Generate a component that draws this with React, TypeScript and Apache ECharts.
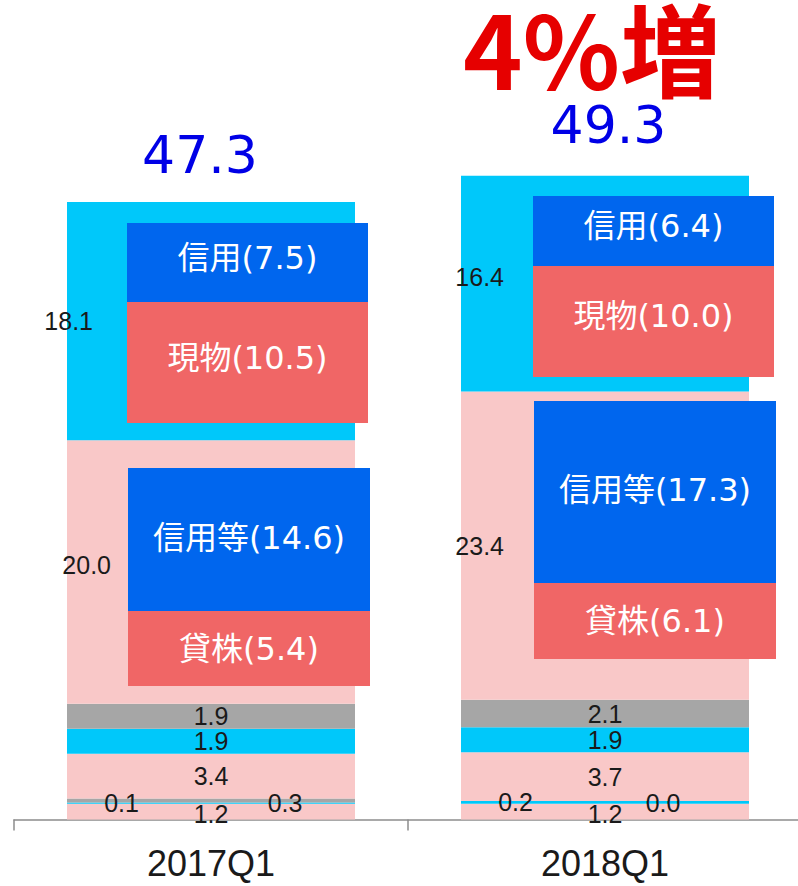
import React, { useEffect, useRef } from 'react';
import * as echarts from 'echarts';

// ---- data ----
const categories = ['2017Q1', '2018Q1'];
// stacked segments, bottom to top
const segPinkA = [1.2, 1.2];
const segCyanA = [0.1, 0.2];
const segGrayA = [0.3, 0.0];
const segPinkB = [3.4, 3.7];
const segCyanB = [1.9, 1.9];
const segGrayB = [1.9, 2.1];
const segPinkC = [20.0, 23.4];
const segCyanC = [18.1, 16.4];
const totals = [47.3, 49.3];
const growthText = '4%増';

// breakdown boxes
const boxNames = ['信用', '現物', '信用等', '貸株'];
const boxValues2017 = [7.5, 10.5, 14.6, 5.4];
const boxValues2018 = [6.4, 10.0, 17.3, 6.1];
// box extents on the value axis (top, bottom)
const boxTop2017 = [45.3, 39.3, 26.7, 15.83];
const boxBottom2017 = [39.3, 30.11, 15.83, 10.14];
const boxTop2018 = [47.35, 42.04, 31.78, 17.96];
const boxBottom2018 = [42.04, 33.61, 17.96, 12.19];

// ---- styles / layout ----
const PINK = '#F9C8C8';
const CYAN = '#00C8FA';
const GRAY = '#A6A6A6';
const BLUE = '#0066EE';
const SALMON = '#F06666';
const boxColors = [BLUE, SALMON, BLUE, SALMON];
const boxDx = [
  [[-84, 157], [-84, 157], [-83, 159], [-83, 159]],
  [[-72, 169], [-72, 169], [-71, 171], [-71, 171]],
];
const boxTextDy = [-5, -5, -2, 0];
const LABEL_FONT = 'Liberation Sans';
const fmt1 = (p: any) => Number(p.value).toFixed(1);

export default function App() {
  const ref = useRef<HTMLDivElement>(null);
  useEffect(() => {
    if (!ref.current) return;
    const chart = echarts.init(ref.current, undefined, { renderer: 'svg' });

    const baseLabel = {
      show: true,
      position: 'inside',
      fontFamily: LABEL_FONT,
      fontSize: 25,
      color: '#1a1a1a',
      textBorderWidth: 0,
      formatter: fmt1,
    };
    const mkBar = (name: string, data: any[], color: string, label: any) => ({
      name,
      type: 'bar',
      stack: 'total',
      barWidth: 288,
      data,
      itemStyle: { color },
      label: { ...baseLabel, ...label },
    });

    const stackTop = categories.map((_, i) =>
      [segPinkA, segCyanA, segGrayA, segPinkB, segCyanB, segGrayB, segPinkC, segCyanC]
        .reduce((s, a) => s + a[i], 0)
    );

    const boxData: any[] = [];
    const boxInfo: any[] = [];
    [
      [boxTop2017, boxBottom2017, boxValues2017],
      [boxTop2018, boxBottom2018, boxValues2018],
    ].forEach((arr, c) => {
      boxNames.forEach((n, k) => {
        boxData.push([c, arr[0][k], arr[1][k]]);
        boxInfo.push({ c, k, text: `${n}(${(arr[2][k] as number).toFixed(1)})` });
      });
    });

    const option: any = {
      animation: false,
      grid: {
        left: 14,
        top: 29.5,
        width: 788,
        bottom: 66.5,
        containLabel: false,
        outerBoundsMode: 'none',
      },
      xAxis: {
        type: 'category',
        data: categories,
        axisLine: { lineStyle: { color: '#8c8c8c', width: 1.5 } },
        axisTick: { show: true, length: 11, lineStyle: { color: '#8c8c8c', width: 1.5 } },
        axisLabel: { fontFamily: LABEL_FONT, fontSize: 36, color: '#1a1a1a', margin: 26 },
        z: 1,
      },
      yAxis: { type: 'value', min: 0, max: 60, show: false },
      graphic: [
        {
          type: 'text',
          x: 592,
          y: 46,
          z: 10,
          style: {
            text: growthText,
            fontFamily: 'Noto Sans CJK JP',
            fontWeight: 'bold',
            fontSize: 101,
            lineHeight: 88,
            fill: '#E60000',
            align: 'center',
            verticalAlign: 'middle',
          },
        },
      ],
      series: [
        mkBar('segPinkA', segPinkA.map((v) => ({ value: v })), PINK, { offset: [0, 2] }),
        mkBar('segCyanA', segCyanA.map((v) => ({ value: v })), CYAN, { offset: [-89.5, 0] }),
        mkBar(
          'segGrayA',
          [
            { value: segGrayA[0], label: { offset: [74, 2.6] } },
            { value: segGrayA[1], label: { offset: [58, 2] } },
          ],
          GRAY,
          {}
        ),
        mkBar('segPinkB', segPinkB.map((v) => ({ value: v })), PINK, {}),
        mkBar('segCyanB', segCyanB.map((v) => ({ value: v })), CYAN, {}),
        mkBar('segGrayB', segGrayB.map((v) => ({ value: v })), GRAY, {}),
        mkBar(
          'segPinkC',
          [
            { value: segPinkC[0], label: { position: [44, '50%'], align: 'right', verticalAlign: 'middle', offset: [0, -7] } },
            { value: segPinkC[1], label: { position: [43, '50%'], align: 'right', verticalAlign: 'middle' } },
          ],
          PINK,
          {}
        ),
        mkBar(
          'segCyanC',
          [
            { value: segCyanC[0], label: { position: [26, '50%'], align: 'right', verticalAlign: 'middle' } },
            { value: segCyanC[1], label: { position: [43, '50%'], align: 'right', verticalAlign: 'middle', offset: [0, -7] } },
          ],
          CYAN,
          {}
        ),
        {
          name: 'total',
          type: 'scatter',
          symbolSize: 0,
          itemStyle: { opacity: 1 },
          data: [
            { value: [0, stackTop[0]], label: { offset: [-11, -47] } },
            { value: [1, stackTop[1]], label: { offset: [3.5, -51] } },
          ],
          label: {
            show: true,
            position: 'inside',
            fontFamily: 'DejaVu Sans',
            fontSize: 52,
            lineHeight: 44,
            color: '#0000E6',
            opacity: 1,
            textBorderWidth: 0,
            textBorderColor: 'transparent',
            formatter: (p: any) => totals[p.dataIndex].toFixed(1),
          },
          z: 5,
        },
        {
          name: 'boxes',
          type: 'custom',
          z: 4,
          encode: { x: 0, y: [1, 2] },
          data: boxData,
          renderItem: (params: any, api: any) => {
            const info = boxInfo[params.dataIndex];
            const pTop = api.coord([api.value(0), api.value(1)]);
            const pBot = api.coord([api.value(0), api.value(2)]);
            const dx = boxDx[info.c][info.k];
            const x0 = pTop[0] + dx[0];
            const x1 = pTop[0] + dx[1];
            return {
              type: 'group',
              children: [
                {
                  type: 'rect',
                  shape: { x: x0, y: pTop[1], width: x1 - x0, height: pBot[1] - pTop[1] },
                  style: { fill: boxColors[info.k] },
                },
                {
                  type: 'text',
                  style: {
                    text: info.text,
                    x: (x0 + x1) / 2,
                    y: (pTop[1] + pBot[1]) / 2 + boxTextDy[info.k],
                    align: 'center',
                    verticalAlign: 'middle',
                    fill: '#ffffff',
                    fontFamily: '"DejaVu Sans", "Noto Sans CJK JP"',
                    fontSize: 32,
                  },
                },
              ],
            };
          },
        },
      ],
    };
    chart.setOption(option);
    return () => chart.dispose();
  }, []);
  return (
    <div
      ref={ref}
      style={{ position: 'fixed', left: 0, top: 0, width: 798, height: 886, background: '#ffffff' }}
    />
  );
}
